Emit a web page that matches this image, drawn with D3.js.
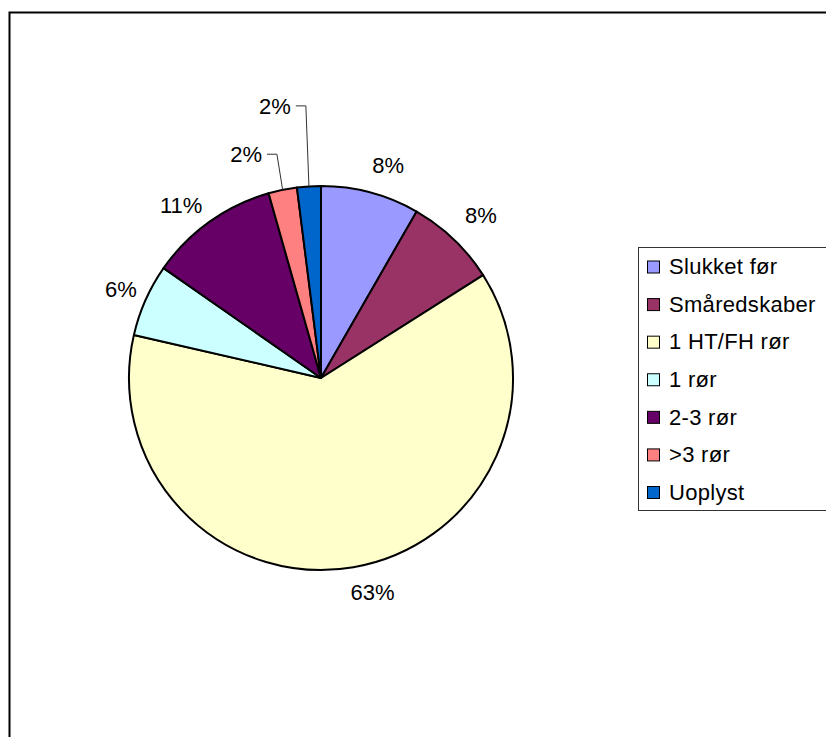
<!DOCTYPE html>
<html>
<head>
  <meta charset="utf-8">
  <script src="https://d3js.org/d3.v7.min.js"></script>
  <style>
    body { margin: 0; background: #fff; }
    text { font-family: "Liberation Sans", Arial, sans-serif; font-size: 22px; fill: #000; }
    .legend text { letter-spacing: 0.3px; }
  </style>
</head>
<body>
  <svg width="826" height="737"></svg>

  <script>
    // chart data (shares in percent, clockwise from 12 o'clock)
    const categories = ["Slukket før", "Småredskaber", "1 HT/FH rør", "1 rør", "2-3 rør", ">3 rør", "Uoplyst"];
    const values = [8.3, 7.7, 62.6, 6.1, 10.9, 2.4, 2.0];
    const colors = ["#9999FF", "#993366", "#FFFFCC", "#CCFFFF", "#660066", "#FF8080", "#0066CC"];

    const width = 826;
    const height = 737;
    const cx = 321, cy = 378, radius = 192;

    const svg = d3.select("svg")
      .attr("width", width)
      .attr("height", height);

    // outer chart border (runs off the right and bottom edges)
    svg.append("rect")
      .attr("x", 9.5)
      .attr("y", 12.5)
      .attr("width", width)
      .attr("height", height)
      .attr("fill", "none")
      .attr("stroke", "#000")
      .attr("stroke-width", 2);

    const total = d3.sum(values);
    const data = categories.map((c, i) => ({ name: c, value: values[i], color: colors[i] }));

    const pie = d3.pie().sort(null).value(d => d.value);
    const arcs = pie(data);
    const arc = d3.arc().innerRadius(0).outerRadius(radius);

    const g = svg.append("g").attr("transform", `translate(${cx},${cy})`);

    g.selectAll("path.slice")
      .data(arcs)
      .enter().append("path")
      .attr("class", "slice")
      .attr("d", arc)
      .attr("fill", d => d.data.color)
      .attr("stroke", "#000")
      .attr("stroke-width", 2)
      .attr("stroke-linejoin", "round");

    // label placement: radius and angle nudge (degrees); small slices get a leader line
    const labelPos = {
      "Slukket før": { r: 223, shift: 2.6 },
      "Småredskaber": { r: 228, shift: 0.8 },
      "1 HT/FH rør": { r: 220, shift: -3.8 },
      "1 rør": { r: 219, shift: 0 },
      "2-3 rør": { r: 222, shift: -3.6 },
      ">3 rør": { r: 236, shift: -7, leader: true },
      "Uoplyst": { r: 276, shift: -6, leader: true }
    };

    const pct = d => Math.round(d.value / total * 100) + "%";
    const mid = d => (d.startAngle + d.endAngle) / 2;

    arcs.forEach(d => {
      const p = labelPos[d.data.name];
      const a = mid(d) + p.shift * Math.PI / 180;
      const x = p.r * Math.sin(a);
      const y = -p.r * Math.cos(a);
      const t = g.append("text")
        .attr("x", x)
        .attr("y", y)
        .attr("dy", "0.35em")
        .attr("text-anchor", "middle")
        .text(pct(d.data));

      if (p.leader) {
        const w = t.node().getComputedTextLength();
        const x0 = x + w / 2 + 5;
        const px = radius * Math.sin(mid(d));
        const py = -radius * Math.cos(mid(d));
        g.append("polyline")
          .attr("points", `${x0},${y} ${x0 + 10},${y} ${px},${py}`)
          .attr("fill", "none")
          .attr("stroke", "#333")
          .attr("stroke-width", 1);
      }
    });

    // legend
    const legend = svg.append("g").attr("class", "legend");
    legend.append("rect")
      .attr("x", 638.5)
      .attr("y", 247.5)
      .attr("width", 220)
      .attr("height", 263)
      .attr("fill", "#fff")
      .attr("stroke", "#333")
      .attr("stroke-width", 1);

    const rowY = d3.scalePoint()
      .domain(categories)
      .range([266.5, 492]);

    const item = legend.selectAll("g.item")
      .data(data)
      .enter().append("g")
      .attr("class", "item")
      .attr("transform", d => `translate(647,${rowY(d.name)})`);

    item.append("rect")
      .attr("x", 0.5)
      .attr("y", -5.5)
      .attr("width", 12)
      .attr("height", 12)
      .attr("fill", d => d.color)
      .attr("stroke", "#000")
      .attr("stroke-width", 1);

    item.append("text")
      .attr("x", 22)
      .attr("y", 0)
      .attr("dy", "0.35em")
      .text(d => d.name);
  </script>
</body>
</html>
